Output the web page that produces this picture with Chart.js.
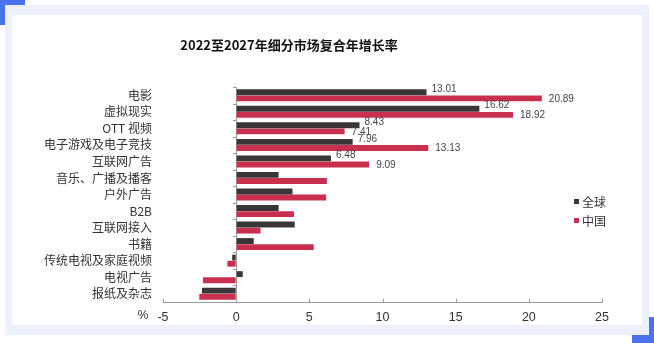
<!DOCTYPE html>
<html lang="zh">
<head>
    <meta charset="UTF-8">
    <title>2022至2027年细分市场复合年增长率</title>
    <script src="https://cdn.jsdelivr.net/npm/chart.js"></script>
    <style>
        html, body { margin: 0; padding: 0; background: #fff; }
        #wrap { position: relative; width: 654px; height: 343px; overflow: hidden; }
        .blue { position: absolute; background: #4b72ee; }
        #frame { position: absolute; left: 5px; top: 5px; width: 644px; height: 330px; background: #edf1fd; }
        #panel { position: absolute; left: 12px; top: 15px; width: 630px; height: 310px; background: #fff; }
        #chart { position: absolute; left: 0; top: 0; }
    </style>
</head>
<body>
<div id="wrap">
    <div class="blue" style="left:0;top:0;width:25px;height:25px"></div>
    <div class="blue" style="left:632px;top:317px;width:22px;height:26px"></div>
    <div id="frame"></div>
    <div id="panel"></div>
    <canvas id="chart" width="654" height="343"></canvas>
</div>

<script>
    // data
    const categories = ["电影", "虚拟现实", "OTT 视频", "电子游戏及电子竞技", "互联网广告",
        "音乐、广播及播客", "户外广告", "B2B", "互联网接入", "书籍",
        "传统电视及家庭视频", "电视广告", "报纸及杂志"];
    const globalValues = [13.01, 16.62, 8.43, 7.96, 6.48, 2.9, 3.85, 2.9, 4.0, 1.2, -0.27, 0.45, -2.34];
    const chinaValues = [20.89, 18.92, 7.41, 13.13, 9.09, 6.2, 6.15, 3.95, 1.67, 5.3, -0.6, -2.27, -2.52];
    const seriesNames = ["全球", "中国"];
    const labeledCount = 5; // only the first five groups carry value labels
    const xMin = -5, xMax = 25, xStep = 5;

    const colors = ["#3b3636", "#c9304f"];
    const cjk = "'Noto Sans CJK SC', sans-serif";

    // title, legend, value labels and small tick marks
    const extras = {
        id: "extras",
        afterDraw(chart) {
            const ctx = chart.ctx;
            const area = chart.chartArea;
            const xs = chart.scales.x;
            const x0 = xs.getPixelForValue(0);
            ctx.save();

            ctx.fillStyle = "#111";
            ctx.font = "bold 13px " + cjk;
            ctx.textAlign = "center";
            ctx.textBaseline = "middle";
            ctx.fillText("2022至2027年细分市场复合年增长率", 289, 45);

            // tick marks
            ctx.strokeStyle = "#9a9a9a";
            ctx.lineWidth = 1;
            ctx.beginPath();
            for (let v = xMin; v <= xMax; v += xStep) {
                const px = Math.round(xs.getPixelForValue(v)) + 0.5;
                ctx.moveTo(px, area.bottom);
                ctx.lineTo(px, area.bottom - 3);
            }
            const band = (area.bottom - area.top) / categories.length;
            for (let i = 0; i < categories.length; i++) {
                const py = Math.round(area.top + i * band) + 0.5;
                ctx.moveTo(Math.round(x0) - 3, py);
                ctx.lineTo(Math.round(x0), py);
            }
            ctx.stroke();

            // % unit
            ctx.fillStyle = "#333";
            ctx.font = "12px 'Liberation Sans', sans-serif";
            ctx.textAlign = "center";
            ctx.fillText("%", 143, 316);

            // legend
            seriesNames.forEach((name, i) => {
                const y = 202 + i * 19;
                ctx.fillStyle = colors[i];
                ctx.fillRect(574, y - 3, 5, 5);
                ctx.fillStyle = "#333";
                ctx.font = "12px " + cjk;
                ctx.textAlign = "left";
                ctx.fillText(name, 582, y);
            });

            // value labels
            ctx.font = "10px 'Liberation Sans', sans-serif";
            ctx.fillStyle = "#444";
            ctx.textAlign = "left";
            [0, 1].forEach(d => {
                const meta = chart.getDatasetMeta(d);
                const vals = d === 0 ? globalValues : chinaValues;
                for (let i = 0; i < labeledCount; i++) {
                    const bar = meta.data[i];
                    const dx = d === 0 ? 5 : 7;
                    const dy = d === 0 ? -3 : 0.5;
                    ctx.fillText(vals[i].toFixed(2), bar.x + dx, bar.y + dy);
                }
            });
            ctx.restore();
        }
    };

    new Chart(document.getElementById("chart"), {
        type: "bar",
        data: {
            labels: categories,
            datasets: [
                { label: seriesNames[0], data: globalValues, backgroundColor: colors[0] },
                { label: seriesNames[1], data: chinaValues, backgroundColor: colors[1] }
            ]
        },
        options: {
            indexAxis: "y",
            responsive: false,
            animation: false,
            devicePixelRatio: 1,
            categoryPercentage: 0.74,
            barPercentage: 0.96,
            layout: { padding: { left: 0, right: 52, top: 87, bottom: 0 } },
            plugins: {
                legend: { display: false },
                tooltip: { enabled: false }
            },
            scales: {
                x: {
                    min: xMin,
                    max: xMax,
                    ticks: {
                        stepSize: xStep,
                        padding: 8,
                        color: "#333",
                        font: { family: "'Liberation Sans', sans-serif", size: 12.5 }
                    },
                    grid: {
                        drawTicks: false,
                        color: c => (c.tick && c.tick.value === 0 ? "#9a9a9a" : "transparent")
                    },
                    border: { display: true, color: "#9a9a9a" },
                    afterFit: s => { s.height = 41; }
                },
                y: {
                    grid: { display: false },
                    border: { display: false },
                    ticks: {
                        autoSkip: false,
                        padding: 3,
                        color: "#333",
                        font: { family: cjk, size: 12 }
                    },
                    afterFit: s => { s.width = 163; }
                }
            }
        },
        plugins: [extras]
    });
</script>
</body>
</html>
